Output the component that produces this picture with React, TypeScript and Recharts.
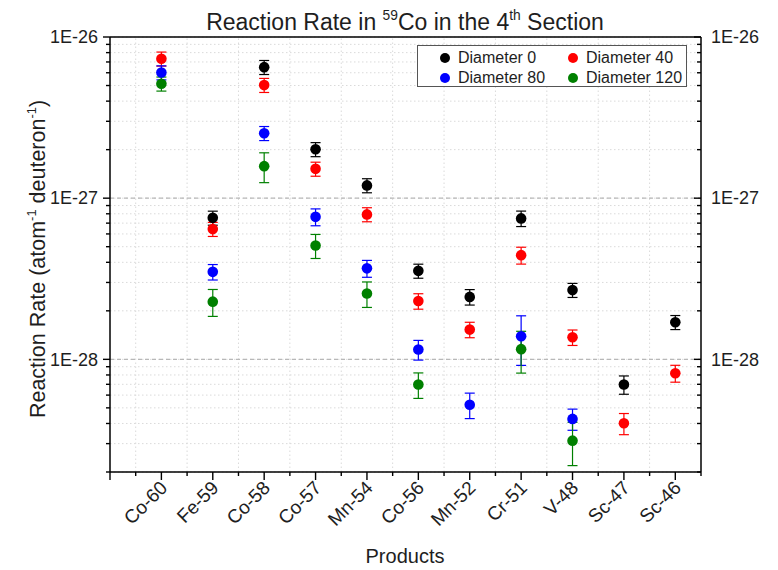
import React from 'react';
import { ScatterChart, Scatter, XAxis, YAxis, CartesianGrid, ErrorBar, ReferenceLine } from 'recharts';

const products = ['Co-60', 'Fe-59', 'Co-58', 'Co-57', 'Mn-54', 'Co-56', 'Mn-52', 'Cr-51', 'V-48', 'Sc-47', 'Sc-46'];

const dia0 = [null, 7.55e-28, 6.5e-27, 2.01e-27, 1.2e-27, 3.54e-28, 2.44e-28, 7.49e-28, 2.69e-28, 6.98e-29, 1.7e-28];
const dia0Err = [0, 0.1, 0.1, 0.1, 0.1, 0.1, 0.11, 0.11, 0.1, 0.13, 0.1];
const dia40 = [7.33e-27, 6.43e-28, 5.03e-27, 1.52e-27, 7.93e-28, 2.3e-28, 1.53e-28, 4.43e-28, 1.37e-28, 4.01e-29, 8.2e-29];
const dia40Err = [0.1, 0.1, 0.1, 0.1, 0.1, 0.11, 0.11, 0.12, 0.11, 0.15, 0.12];
const dia80 = [6.02e-27, 3.49e-28, 2.53e-27, 7.66e-28, 3.67e-28, 1.15e-28, 5.23e-29, 1.39e-28, 4.27e-29, null, null];
const dia80Err = [0.1, 0.11, 0.1, 0.12, 0.12, 0.14, 0.18, 0.34, 0.15, 0, 0];
const dia120 = [5.13e-27, 2.28e-28, 1.58e-27, 5.09e-28, 2.56e-28, 6.98e-29, null, 1.157e-28, 3.13e-29, null, null];
const dia120Err = [0.1, 0.19, 0.21, 0.17, 0.18, 0.18, 0, 0.29, 0.3, 0, 0];

const xTicks = [0, 0.5, 1, 1.5, 2, 2.5, 3, 3.5, 4, 4.5, 5, 5.5, 6, 6.5, 7, 7.5, 8, 8.5, 9, 9.5, 10, 10.5, 11, 11.5];
const xGrid = [0.5, 1.5, 2.5, 3.5, 4.5, 5.5, 6.5, 7.5, 8.5, 9.5, 10.5];
const yTicks = [
  2e-29, 3e-29, 4e-29, 5e-29, 6e-29, 7e-29, 8e-29, 9e-29,
  1e-28, 2e-28, 3e-28, 4e-28, 5e-28, 6e-28, 7e-28, 8e-28, 9e-28,
  1e-27, 2e-27, 3e-27, 4e-27, 5e-27, 6e-27, 7e-27, 8e-27, 9e-27,
  1e-26,
];
const yMajor = [1e-28, 1e-27];
const yDomain = [2e-29, 1e-26];

const series = [
  { name: 'Diameter 0', color: '#000000', values: dia0, errs: dia0Err },
  { name: 'Diameter 40', color: '#ff0000', values: dia40, errs: dia40Err },
  { name: 'Diameter 80', color: '#0000ff', values: dia80, errs: dia80Err },
  { name: 'Diameter 120', color: '#008000', values: dia120, errs: dia120Err },
];

const FONT = "'Liberation Sans', Arial, sans-serif";
const TXT = '#1e1e1e';

const buildData = (values: (number | null)[], errs: number[]) =>
  values
    .map((v, i) => (v == null ? null : { x: i + 1, y: v, err: [v * errs[i], v * errs[i]] }))
    .filter((d) => d != null);

const isDecade = (v: number) => {
  const l = Math.log10(v);
  return Math.abs(l - Math.round(l)) < 1e-6;
};
const fmtE = (v: number) => `1E${Math.round(Math.log10(v))}`;

const BottomTick = (props: any) => {
  const { x, y, payload } = props;
  const v = payload.value;
  const major = Number.isInteger(v);
  const label = major && v >= 1 ? products[v - 1] : null;
  const ax = x + 7;
  const ay = y + 17;
  return (
    <g>
      <line x1={x} y1={y} x2={x} y2={y + (major ? 8 : 4)} stroke="#000" strokeWidth={1.4} />
      {label && (
        <text x={ax} y={ay} transform={`rotate(-45 ${ax} ${ay})`} textAnchor="end" fontSize={19} fill={TXT} fontFamily={FONT}>
          {label}
        </text>
      )}
    </g>
  );
};

const TopTick = (props: any) => {
  const { x, y, payload } = props;
  const major = Number.isInteger(payload.value);
  return <line x1={x} y1={y} x2={x} y2={y + (major ? 6 : 3.5)} stroke="#000" strokeWidth={1.4} />;
};

const LeftTick = (props: any) => {
  const { x, y, payload } = props;
  const major = isDecade(payload.value);
  return (
    <g>
      <line x1={x} y1={y} x2={x - (major ? 7 : 4)} y2={y} stroke="#000" strokeWidth={1.4} />
      {major && (
        <text x={x - 12} y={y} dy="0.35em" textAnchor="end" fontSize={18} fill={TXT} fontFamily={FONT}>
          {fmtE(payload.value)}
        </text>
      )}
    </g>
  );
};

const RightTick = (props: any) => {
  const { x, y, payload } = props;
  const major = isDecade(payload.value);
  return (
    <g>
      <line x1={x} y1={y} x2={x - (major ? 7 : 4)} y2={y} stroke="#000" strokeWidth={1.4} />
      {major && (
        <text x={x + 10} y={y} dy="0.35em" textAnchor="start" fontSize={18} fill={TXT} fontFamily={FONT}>
          {fmtE(payload.value)}
        </text>
      )}
    </g>
  );
};

const sup: React.CSSProperties = { fontSize: '0.6em', position: 'relative', top: '-0.7em' };

export default function App() {
  const axisLine = { stroke: '#000', strokeWidth: 1.5 };
  return (
    <div style={{ position: 'absolute', left: 0, top: 0, width: 778, height: 570, background: '#fff', fontFamily: FONT, color: TXT }}>
      <ScatterChart width={778} height={570} margin={{ top: 37, right: 0, bottom: 0, left: 0 }}>
        <CartesianGrid vertical={false} stroke="#dadada" strokeDasharray="1.5 2.5" yAxisId="left" />
        {xGrid.map((g) => (
          <ReferenceLine key={`vx${g}`} x={g} yAxisId="left" stroke="#dadada" strokeDasharray="1.5 2.5" />
        ))}
        {yMajor.map((g) => (
          <ReferenceLine key={`hy${g}`} y={g} yAxisId="left" stroke="#b8b8b8" strokeDasharray="4 3" strokeWidth={1.2} />
        ))}
        <XAxis
          type="number"
          dataKey="x"
          domain={[0, 11.5]}
          allowDataOverflow
          ticks={xTicks}
          interval={0}
          height={98}
          tickSize={0}
          tickMargin={0}
          tickLine={false}
          tick={BottomTick}
          axisLine={axisLine}
        />
        <XAxis
          xAxisId="top"
          orientation="top"
          type="number"
          domain={[0, 11.5]}
          allowDataOverflow
          ticks={xTicks}
          interval={0}
          mirror
          tickSize={0}
          tickMargin={0}
          tickLine={false}
          tick={TopTick}
          axisLine={axisLine}
        />
        <YAxis
          yAxisId="left"
          type="number"
          dataKey="y"
          scale="log"
          domain={yDomain}
          allowDataOverflow
          ticks={yTicks}
          interval={0}
          width={110}
          tickSize={0}
          tickMargin={0}
          tickLine={false}
          tick={LeftTick}
          axisLine={axisLine}
        />
        <YAxis
          yAxisId="right"
          orientation="right"
          type="number"
          scale="log"
          domain={yDomain}
          allowDataOverflow
          ticks={yTicks}
          interval={0}
          width={77}
          tickSize={0}
          tickMargin={0}
          tickLine={false}
          tick={RightTick}
          axisLine={axisLine}
        />
        {series.map((s) => (
          <Scatter
            key={s.name}
            name={s.name}
            yAxisId="left"
            data={buildData(s.values, s.errs)}
            fill={s.color}
            isAnimationActive={false}
            shape={(p: any) => <circle cx={p.cx} cy={p.cy} r={5.3} fill={s.color} />}
          >
            <ErrorBar dataKey="err" direction="y" width={5} stroke={s.color} strokeWidth={1.2} isAnimationActive={false} />
          </Scatter>
        ))}
      </ScatterChart>

      <div style={{ position: 'absolute', left: 105, width: 600, top: 11, textAlign: 'center', fontSize: 23, lineHeight: '23px', whiteSpace: 'nowrap' }}>
        Reaction Rate in <span style={sup}>59</span>Co in the 4<span style={sup}>th</span> Section
      </div>

      <div
        style={{
          position: 'absolute',
          left: 38 - 250,
          top: 259 - 11,
          width: 500,
          textAlign: 'center',
          fontSize: 21.5,
          lineHeight: '22px',
          whiteSpace: 'nowrap',
          transform: 'rotate(-90deg)',
          transformOrigin: '250px 11px',
        }}
      >
        Reaction Rate (atom<span style={sup}>-1</span> deuteron<span style={sup}>-1</span>)
      </div>

      <div style={{ position: 'absolute', left: 105, width: 600, top: 545, textAlign: 'center', fontSize: 20, lineHeight: '22px' }}>
        Products
      </div>

      <div
        style={{
          position: 'absolute',
          left: 417,
          top: 45,
          width: 270,
          height: 42,
          border: '1px solid #555',
          background: '#fff',
          boxSizing: 'border-box',
          fontSize: 16,
        }}
      >
        {series.map((s, i) => {
          const col = i % 2;
          const row = Math.floor(i / 2);
          return (
            <div
              key={s.name}
              style={{ position: 'absolute', left: 22 + col * 128, top: 2 + row * 20, height: 20, display: 'flex', alignItems: 'center', whiteSpace: 'nowrap' }}
            >
              <span style={{ width: 10, height: 10, borderRadius: 5, background: s.color, display: 'inline-block', marginRight: 8 }} />
              <span>{s.name}</span>
            </div>
          );
        })}
      </div>
    </div>
  );
}
